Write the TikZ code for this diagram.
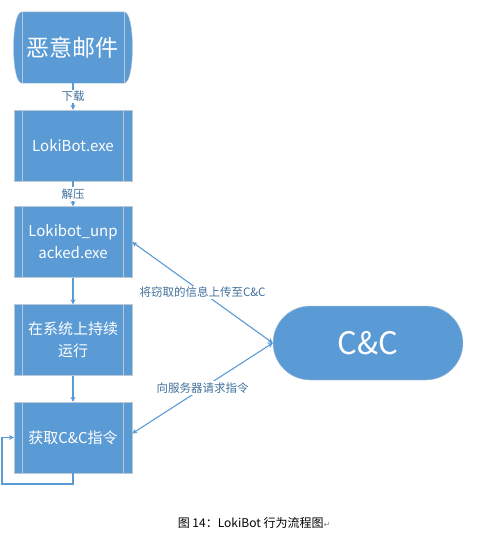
\documentclass[tikz,border=0pt]{standalone}
\usepackage{fontspec}
\setmainfont{Noto Sans CJK SC}
\newfontfamily\symfont{DejaVu Sans}
\usetikzlibrary{arrows.meta,backgrounds}
\definecolor{boxblue}{HTML}{5B9BD5}
\definecolor{boxline}{HTML}{BCC8D4}
\definecolor{labelblue}{HTML}{41719C}

\begin{document}
\begin{tikzpicture}[x=1pt,y=-1pt,
  proc/.style={draw=boxline, fill=boxblue, minimum width=118, minimum height=71,
    inner sep=0pt, align=center, text=white, font=\fontsize{15}{22}\selectfont,
    path picture={
      \draw[boxline] ([xshift=8.5]path picture bounding box.north west) -- ([xshift=8.5]path picture bounding box.south west);
      \draw[boxline] ([xshift=-8.5]path picture bounding box.north east) -- ([xshift=-8.5]path picture bounding box.south east);}},
  link/.style={draw=boxblue, line width=1.1pt, -{Stealth[length=5pt,width=5pt]}},
  both/.style={link, {Stealth[length=5pt,width=5pt]}-{Stealth[length=5pt,width=5pt]}},
  tag/.style={fill=white, text=labelblue, inner sep=1.5pt, font=\fontsize{11.5}{13}\selectfont}]

\useasboundingbox (0,0) rectangle (484,533);

\node[inner sep=0pt, minimum width=102, minimum height=71, text=white, font=\fontsize{23}{26}\selectfont] (mail) at (73,47.5) {恶意邮件};
\begin{scope}[on background layer]
\draw[boxline, fill=boxblue] (mail.north west) -- (mail.north east)
  .. controls ([xshift=11]mail.north east) and ([xshift=11]mail.south east) .. (mail.south east)
  -- (mail.south west)
  .. controls ([xshift=-11]mail.south west) and ([xshift=-11]mail.north west) .. (mail.north west) -- cycle;
\draw[boxline] (mail.north west) -- (mail.south west) (mail.north east) -- (mail.south east);
\end{scope}

\node[proc] (exe) at (73,145.5) {LokiBot.exe};
\node[proc] (unpack) at (73,242) {Lokibot\_unp\\acked.exe};
\node[proc] (persist) at (73,340) {在系统上持续\\运行};
\node[proc] (fetch) at (73,437.5) {获取C\&C指令};

\node[draw=boxline, fill=boxblue, rounded corners=37, minimum width=190, minimum height=74,
  text=white, font=\fontsize{31}{34}\selectfont] (cc) at (368,343) {C\&C};

\draw[link] (mail) -- node[tag] {下载} (exe);
\draw[link] (exe) -- node[tag] {解压} (unpack);
\draw[link] (unpack) -- (persist);
\draw[link] (persist) -- (fetch);

\draw[both] (cc.west) -- node[tag] {将窃取的信息上传至C\&C} (unpack.east);
\draw[both] (cc.west) -- node[tag] {向服务器请求指令} ([yshift=4]fetch.east);

\coordinate (loop) at (2,484);
\draw[link] (fetch.south) |- (loop) |- (fetch.west);

\node[font=\fontsize{12}{14}\selectfont] (caption) at (254,523) {图 14：LokiBot 行为流程图{\symfont\color{gray}\fontsize{8}{9}\selectfont ↵}};

\end{tikzpicture}
\end{document}
